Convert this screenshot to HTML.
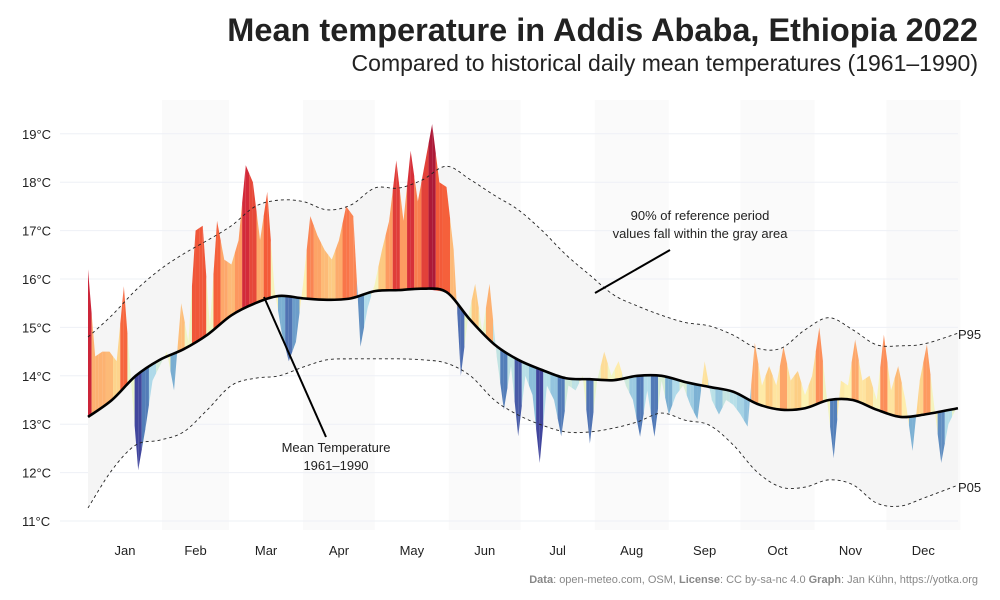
<!DOCTYPE html>
<html><head><meta charset="utf-8">
<style>
html,body{margin:0;padding:0;background:#fff;}
svg{display:block;font-family:"Liberation Sans",sans-serif;}
</style></head>
<body>
<svg id="chart" width="1000" height="600" viewBox="0 0 1000 600">
<text x="978" y="41" text-anchor="end" font-size="32.5" font-weight="bold" fill="#222">Mean temperature in Addis Ababa, Ethiopia 2022</text>
<text x="978" y="71" text-anchor="end" font-size="23" fill="#222">Compared to historical daily mean temperatures (1961–1990)</text>
<g id="bands"></g>
<g id="grid"></g>
<g id="range"></g>
<g id="marks"></g>
<g id="lines"></g>
<g id="yaxis"></g>
<g id="xaxis"></g>
<g>
<line x1="670" y1="250" x2="595" y2="293" stroke="#000" stroke-width="2"/>
<text x="700" y="220" text-anchor="middle" font-size="13" fill="#222">90% of reference period</text>
<text x="700" y="238" text-anchor="middle" font-size="13" fill="#222">values fall within the gray area</text>
</g>
<g>
<line x1="264" y1="297" x2="326" y2="437" stroke="#000" stroke-width="2"/>
<text x="336" y="452" text-anchor="middle" font-size="13" fill="#222">Mean Temperature</text>
<text x="336" y="470" text-anchor="middle" font-size="13" fill="#222">1961–1990</text>
</g>
<text x="958" y="339" font-size="13" fill="#222">P95</text>
<text x="958" y="492" font-size="13" fill="#222">P05</text>
<text x="978" y="583" text-anchor="end" font-size="11" fill="#888"><tspan font-weight="bold">Data</tspan>:  open-meteo.com, OSM, <tspan font-weight="bold">License</tspan>:  CC by-sa-nc 4.0  <tspan font-weight="bold">Graph</tspan>:  Jan Kühn, https://yotka.org</text>
</svg>
<script>
const refDays=[0,10,20,30,40,50,60,70,80,90,100,110,120,130,140,150,160,170,180,190,200,210,220,230,240,250,260,270,280,290,300,310,320,330,340,350,364];
const meanRef=[13.15,13.5,14.0,14.33,14.55,14.85,15.25,15.5,15.65,15.6,15.57,15.6,15.75,15.77,15.8,15.73,15.15,14.65,14.33,14.12,13.95,13.93,13.91,14.0,14.0,13.87,13.77,13.67,13.42,13.3,13.33,13.5,13.5,13.3,13.15,13.2,13.33];
const p95=[14.8,15.25,15.77,16.19,16.52,16.8,17.1,17.5,17.63,17.6,17.43,17.53,17.88,17.88,18.05,18.33,18.05,17.73,17.43,17.0,16.5,16.08,15.67,15.44,15.25,15.1,15.03,14.84,14.57,14.57,14.95,15.2,14.95,14.64,14.62,14.66,14.88];
const p05=[11.27,12.05,12.57,12.67,12.84,13.3,13.8,13.95,14.0,14.18,14.33,14.35,14.35,14.35,14.33,14.26,14.0,13.5,13.19,12.98,12.84,12.84,12.92,13.05,13.23,13.08,12.98,12.57,12.01,11.7,11.7,11.85,11.75,11.37,11.31,11.48,11.74];
const tempStep=3;
const temp2022=[16.2,14.4,14.5,14.5,14.3,15.85,13.9,12.05,12.9,13.9,14.2,14.5,13.7,15.5,14.7,17.0,17.1,15.0,17.2,16.4,16.3,16.8,18.35,18.0,16.8,17.8,15.8,14.9,14.3,14.7,15.9,17.3,16.9,16.6,16.4,16.8,17.5,17.3,14.6,15.4,15.9,16.6,17.2,18.45,17.2,18.65,17.6,18.4,19.2,18.0,17.9,16.6,14.0,15.2,15.9,14.9,15.9,14.4,13.3,14.2,12.75,14.0,13.6,12.2,13.8,13.5,12.75,13.8,13.7,14.0,12.6,13.9,14.5,14.0,14.3,13.8,13.5,12.74,13.7,12.74,13.9,13.2,13.6,13.8,13.4,13.1,14.3,13.5,13.2,13.5,13.4,13.2,12.95,14.68,13.8,14.2,13.8,14.6,13.9,14.1,13.6,14.0,15.0,13.6,12.3,13.9,13.8,14.75,13.9,14.0,13.5,14.85,13.7,14.2,13.5,12.45,13.9,14.65,13.4,12.2,13.0,13.3];
const yTicks=[11,12,13,14,15,16,17,18,19];
const months=["Jan","Feb","Mar","Apr","May","Jun","Jul","Aug","Sep","Oct","Nov","Dec"];
const monthStarts=[0,31,59,90,120,151,181,212,243,273,304,334,365];

const NS="http://www.w3.org/2000/svg";
const X=d=>88+2.39*d;
const Y=v=>521-(v-11)*48.4;
function mk(tag,attrs,parent){const e=document.createElementNS(NS,tag);for(const k in attrs)e.setAttribute(k,attrs[k]);parent.appendChild(e);return e;}
function interp(days,vals,d){for(let i=0;i<days.length-1;i++){if(d<=days[i+1]){const t=(d-days[i])/(days[i+1]-days[i]);return vals[i]+(vals[i+1]-vals[i])*t;}}return vals[vals.length-1];}
function smooth(days,vals){let pts=days.map((d,i)=>[X(d),Y(vals[i])]);let s="M"+pts[0][0]+","+pts[0][1];for(let i=0;i<pts.length-1;i++){const p0=pts[Math.max(0,i-1)],p1=pts[i],p2=pts[i+1],p3=pts[Math.min(pts.length-1,i+2)];const c1=[p1[0]+(p2[0]-p0[0])/6,p1[1]+(p2[1]-p0[1])/6],c2=[p2[0]-(p3[0]-p1[0])/6,p2[1]-(p3[1]-p1[1])/6];s+=" C"+c1[0]+","+c1[1]+" "+c2[0]+","+c2[1]+" "+p2[0]+","+p2[1];}return s;}

const bands=document.getElementById('bands');
for(let m=1;m<12;m+=2){
 const r=mk('rect',{x:X(monthStarts[m]),y:100,width:X(monthStarts[m+1])-X(monthStarts[m]),height:430,fill:'#fafafa'},bands);
 
 
}
const grid=document.getElementById('grid'),yaxis=document.getElementById('yaxis');
yTicks.forEach(v=>{
 const l=mk('line',{x1:60,x2:958,y1:Y(v),y2:Y(v),stroke:'#eef0f6','stroke-width':1},grid);
 
 
 const t=mk('text',{x:22,y:Y(v)+5,'font-size':13,fill:'#222'},yaxis);
 
 
 t.textContent=v+"°C";
});
const xaxis=document.getElementById('xaxis');
months.forEach((m,i)=>{
 const t=mk('text',{x:X((monthStarts[i]+monthStarts[i+1])/2),y:555,'text-anchor':'middle','font-size':13,fill:'#222'},xaxis);
 
 
 t.textContent=m;
});
const range=document.getElementById('range');
const up=smooth(refDays,p95);
const rd=refDays.slice().reverse(),rv=p05.slice().reverse();
const lo=smooth(rd,rv).replace(/^M/,' L');
const ra=mk('path',{d:up+lo+' Z',fill:'#f5f5f5'},range);


const stops=[[-1.8,[49,54,149]],[-1.2,[69,117,180]],[-0.7,[116,173,209]],[-0.3,[171,217,233]],[0,[233,245,200]],[0.3,[254,240,170]],[0.8,[253,200,120]],[1.5,[253,140,80]],[2.2,[244,80,40]],[3.0,[205,20,40]],[3.6,[150,0,38]]];
function col(dv){if(dv<=stops[0][0])return 'rgb('+stops[0][1]+')';for(let i=0;i<stops.length-1;i++){if(dv<=stops[i+1][0]){const t=(dv-stops[i][0])/(stops[i+1][0]-stops[i][0]);const c=stops[i][1].map((a,j)=>Math.round(a+(stops[i+1][1][j]-a)*t));return 'rgb('+c+')';}}return 'rgb('+stops[stops.length-1][1]+')';}
const marks=document.getElementById('marks');
for(let i=0;i<temp2022.length-1;i++){
 const d0=i*tempStep,d1=(i+1)*tempStep;
 const m0=interp(refDays,meanRef,d0),m1=interp(refDays,meanRef,d1);
 const t0=temp2022[i],t1=temp2022[i+1];
 const dm=(d0+d1)/2,mm=(m0+m1)/2,tm=(t0+t1)/2;
 const p1=mk('polygon',{points:[X(d0),Y(m0),X(d0),Y(t0),X(dm),Y(tm),X(dm),Y(mm)].join(' '),fill:col(t0-m0),'fill-opacity':0.92},marks);
 
 
 const p2=mk('polygon',{points:[X(dm),Y(mm),X(dm),Y(tm),X(d1),Y(t1),X(d1),Y(m1)].join(' '),fill:col(t1-m1),'fill-opacity':0.92},marks);
 
 
}
const lines=document.getElementById('lines');
const l95=mk('path',{d:smooth(refDays,p95),fill:'none',stroke:'#222','stroke-width':0.9,'stroke-dasharray':'3,3'},lines);


const l05=mk('path',{d:smooth(refDays,p05),fill:'none',stroke:'#222','stroke-width':0.9,'stroke-dasharray':'3,3'},lines);


const lm=mk('path',{d:smooth(refDays,meanRef),fill:'none',stroke:'#000','stroke-width':2.6},lines);


</script>
</body></html>
